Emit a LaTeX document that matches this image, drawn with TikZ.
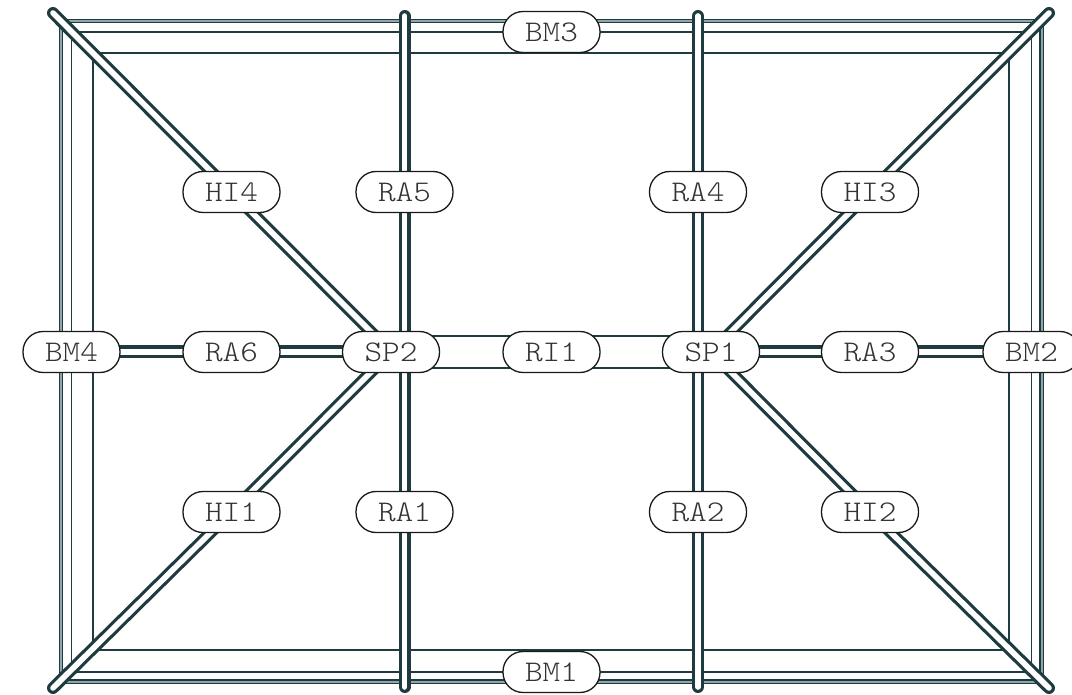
\documentclass[tikz,border=0pt]{standalone}
\usepackage{fontspec}
\newfontfamily\labelfont[Extension=.otf, FakeStretch=1.12]{lmmonolt10-regular}
\usetikzlibrary{backgrounds}
\definecolor{beam}{HTML}{1E3B40}
\definecolor{beamlight}{HTML}{8FA7AB}
\definecolor{txt}{HTML}{333333}
\tikzset{
  lbl/.style={draw=black!90, line width=1.3pt, fill=white, rounded corners=20pt,
    minimum width=97pt, minimum height=41pt, inner sep=0pt,
    font=\fontsize{30}{30}\selectfont\labelfont, text=txt},
  bar/.style={draw=beam, line width=3.2pt, double=white, double distance=5.6pt, line cap=round},
  hbar/.style={draw=beam, line width=3.5pt, double=white, double distance=6pt},
  thinline/.style={draw=beam, line width=1.8pt},
  ribar/.style={draw=beam, line width=1.8pt, double=white, double distance=30pt},
  framedouble/.style={draw=beam, line width=1.4pt, double=beamlight, double distance=2pt}
}
\begin{document}
\begin{tikzpicture}[x=1pt,y=-1pt]
\useasboundingbox (0,0) rectangle (1072,695);
% nodes
\node[lbl] (BM3) at (551.5,32) {BM3};
\node[lbl] (BM1) at (551.5,672) {BM1};
\node[lbl] (BM4) at (71.5,352) {BM4};
\node[lbl] (BM2) at (1031.5,352) {BM2};
\node[lbl] (HI4) at (231.5,192) {HI4};
\node[lbl] (RA5) at (404.5,192) {RA5};
\node[lbl] (RA4) at (698,192) {RA4};
\node[lbl] (HI3) at (870,192) {HI3};
\node[lbl] (RA6) at (231.5,352) {RA6};
\node[lbl] (SP2) at (391,352) {SP2};
\node[lbl] (RI1) at (551.5,352) {RI1};
\node[lbl] (SP1) at (711,352) {SP1};
\node[lbl] (RA3) at (870,352) {RA3};
\node[lbl] (HI1) at (231.5,512) {HI1};
\node[lbl] (RA1) at (404.5,512) {RA1};
\node[lbl] (RA2) at (698,512) {RA2};
\node[lbl] (HI2) at (870,512) {HI2};
% free ends
\coordinate (hTL) at (53,13);
\coordinate (hTR) at (1049,13);
\coordinate (hBL) at (53,688);
\coordinate (hBR) at (1049,688);
\coordinate (raLtop) at (404.5,16);
\coordinate (raLbot) at (404.5,687);
\coordinate (raRtop) at (698,16);
\coordinate (raRbot) at (698,687);
\begin{pgfonlayer}{background}
  % frame
  \draw[framedouble] (61,21) rectangle (1041.5,681.5);
  \draw[thinline] (93,53) rectangle (1009,650);
  \draw[thinline, line join=miter] (BM3.center) -| (BM2.center) |- (BM1.center) -| (BM4.center) |- (BM3.center);
  % ridge bar
  \draw[ribar] (SP2.center) -- (RI1.center) -- (SP1.center);
  % rafters
  \draw[hbar] (BM4.center) -- (RA6.center) -- (SP2.center);
  \draw[hbar] (SP1.center) -- (RA3.center) -- (BM2.center);
  \draw[bar] (raLtop) -- (RA5.center) -- (RA1.center) -- (raLbot);
  \draw[bar] (raRtop) -- (RA4.center) -- (RA2.center) -- (raRbot);
  % hips
  \draw[bar] (hTL) -- (HI4.center) -- (SP2.center);
  \draw[bar] (hBL) -- (HI1.center) -- (SP2.center);
  \draw[bar] (hTR) -- (HI3.center) -- (SP1.center);
  \draw[bar] (hBR) -- (HI2.center) -- (SP1.center);
\end{pgfonlayer}
\end{tikzpicture}
\end{document}
